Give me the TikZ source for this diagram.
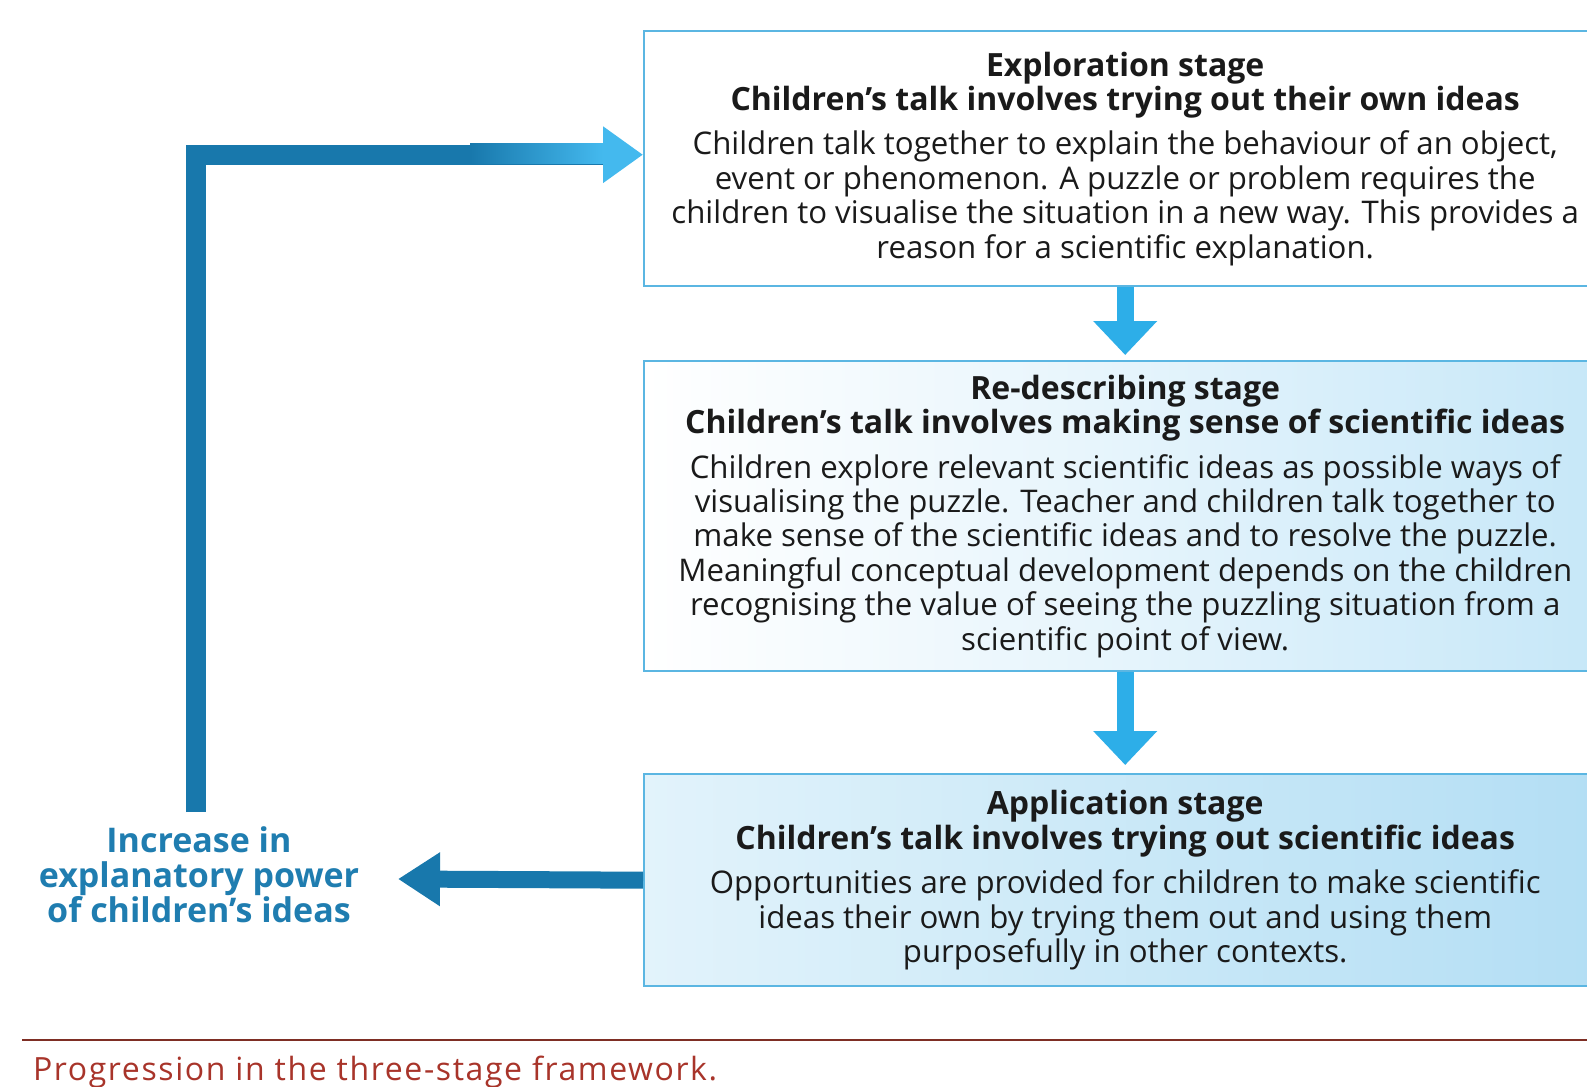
\documentclass[tikz,border=0pt]{standalone}
\usepackage{fontspec}
\setmainfont{Open Sans}
\newfontfamily\capfont[LetterSpace=5]{Open Sans}
\usetikzlibrary{arrows.meta}
\definecolor{boxedge}{HTML}{5BB6E2}
\definecolor{lightarrow}{HTML}{2DAEE8}
\definecolor{darkarrow}{HTML}{1878AC}
\definecolor{headblue}{HTML}{44B9EE}
\definecolor{labelblue}{HTML}{1F7DB0}
\definecolor{capred}{HTML}{A8342A}
\definecolor{rulered}{HTML}{7E2E24}
\definecolor{ink}{HTML}{1A1A1A}
\definecolor{paleA}{HTML}{C6E7F8}
\definecolor{paleB}{HTML}{E2F3FB}
\definecolor{paleC}{HTML}{B3DEF4}
\newcommand\stagetitle{\fontsize{16}{17.2}\selectfont\bfseries}
\tikzset{
  stagebox/.style={draw=boxedge, line width=1.2pt, anchor=north west,
    minimum width=481pt, align=center, text=ink, inner sep=0pt,
    font=\fontsize{15.6}{17.2}\selectfont},
  downarrow/.style={draw=lightarrow, line width=8.5pt,
    -{Triangle[length=17pt,width=31pt,color=lightarrow]}},
  leftarrow/.style={draw=darkarrow, line width=8.5pt,
    -{Triangle[length=21pt,width=25.5pt,color=darkarrow]}},
  looparrow/.style={draw=darkarrow, line width=10pt,
    -{Triangle[length=20pt,width=27pt,color=headblue]}},
  powerlabel/.style={align=center, text=labelblue,
    font=\fontsize{17}{17.4}\selectfont\bfseries},
  captiontext/.style={anchor=base west, text=capred,
    font=\fontsize{16}{18}\capfont},
}
\begin{document}
\begin{tikzpicture}[x=0.5pt,y=-0.5pt]
\useasboundingbox (0,0) rectangle (1587,1087);
\clip (0,0) rectangle (1587,1087);
\fill[white] (0,0) rectangle (1587,1087);

\node[stagebox, minimum height=127.5pt, fill=white] (b1) at (643,30)
 {{\stagetitle Exploration stage}\\
  {\stagetitle Children’s talk involves trying out their own ideas}\\[5pt]
  Children talk together to explain the behaviour of an object,\\
  event or phenomenon. A puzzle or problem requires the\\
  children to visualise the situation in a new way. This provides a\\
  reason for a scientific explanation.};

\node[stagebox, minimum height=155pt, left color=white, right color=paleA,
      middle color=white!55!paleA] (b2) at (643,360)
 {{\stagetitle Re-describing stage}\\
  {\stagetitle Children’s talk involves making sense of scientific ideas}\\[5pt]
  Children explore relevant scientific ideas as possible ways of\\
  visualising the puzzle. Teacher and children talk together to\\
  make sense of the scientific ideas and to resolve the puzzle.\\
  Meaningful conceptual development depends on the children\\
  recognising the value of seeing the puzzling situation from a\\
  scientific point of view.};

\node[stagebox, minimum height=106pt, left color=paleB, right color=paleC] (b3) at (643,773)
 {{\stagetitle Application stage}\\
  {\stagetitle Children’s talk involves trying out scientific ideas}\\[5pt]
  Opportunities are provided for children to make scientific\\
  ideas their own by trying them out and using them\\
  purposefully in other contexts.};

\node[powerlabel] (lbl) at (199,875)
 {Increase in\\explanatory power\\of children’s ideas};

\coordinate (loopstart) at (196,812);
\coordinate (tipL) at (398,879);

\draw[downarrow, shorten >=2.5pt] (b1.south) -- (b2.north);
\draw[downarrow, shorten >=4pt] (b2.south) -- (b3.north);
\draw[leftarrow] (b3.west) -- (tipL);
\draw[looparrow] (loopstart) |- ([yshift=2pt]b1.west);
\shade[left color=darkarrow, right color=headblue] (470,143.5) rectangle (603,163.5);

\draw[rulered, line width=1pt] (22,1040) -- (1600,1040);
\node[captiontext] (cap) at (26,1080) {Progression in the three-stage framework.};
\end{tikzpicture}
\end{document}
